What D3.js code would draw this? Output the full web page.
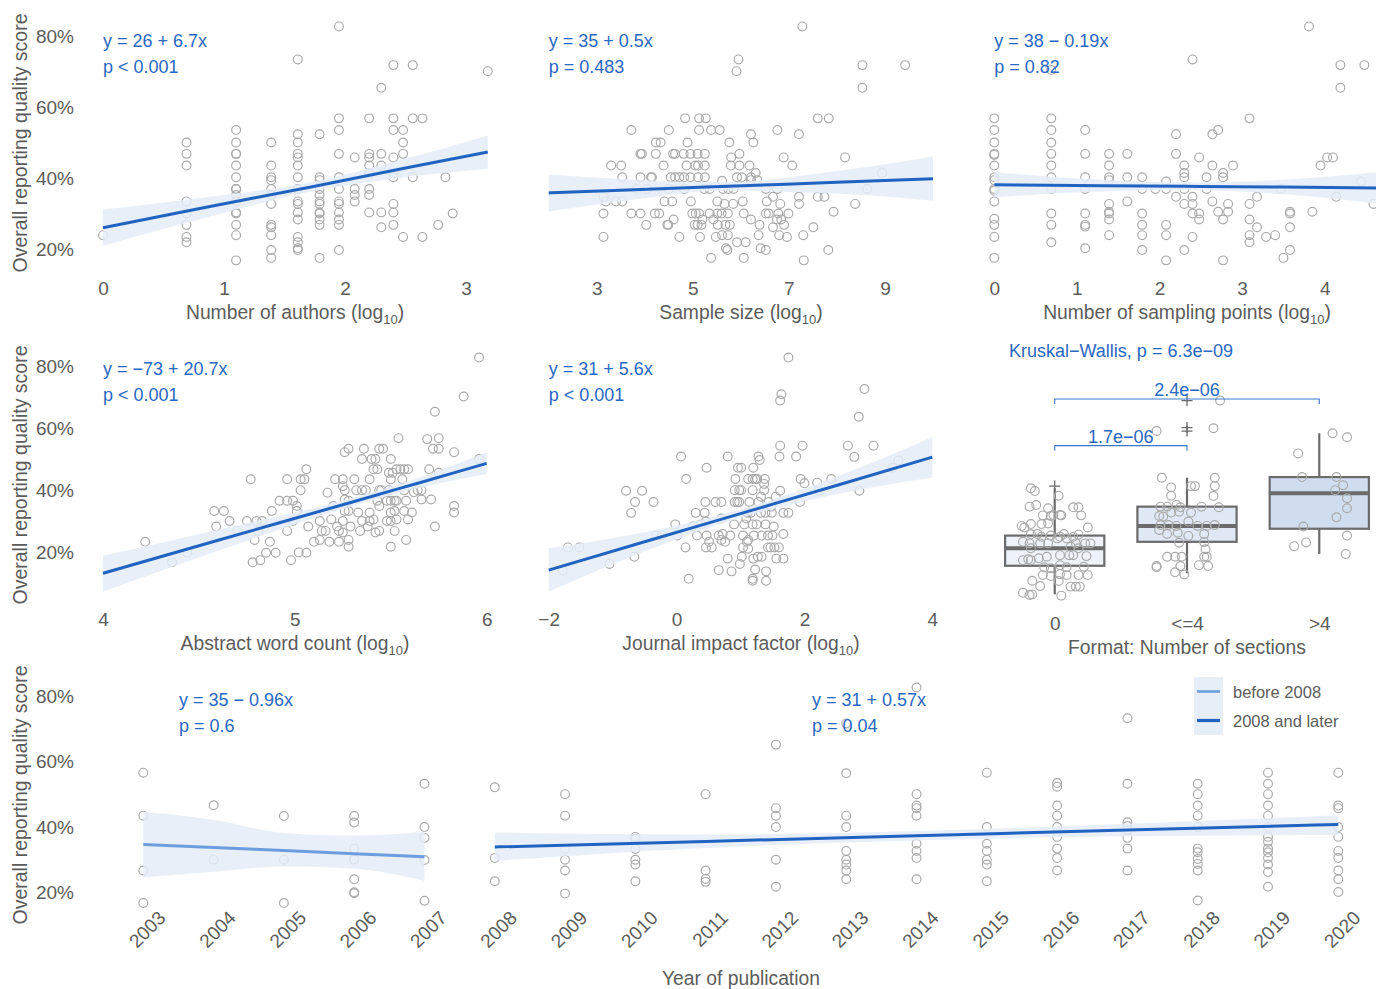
<!DOCTYPE html>
<html lang="en">
<head>
<meta charset="utf-8">
<title>Reporting quality score</title>
<script src="https://cdn.jsdelivr.net/npm/d3@7"></script>
<style>
  body { margin: 0; background: #fff; }
  text { font-family: "Liberation Sans", Arial, Helvetica, sans-serif; }
</style>
</head>
<body>
<svg id="chart" width="1376" height="989"></svg>
<script>
// ---- data ----
var pctTicks = [20, 40, 60, 80];

// number of authors (ln scale), columns of scores
var authorCols = [
  [0, [23.9]],
  [0.69, [50.0, 46.8, 43.5, 33.4, 30.0, 26.8, 23.4, 21.9]],
  [1.10, [53.5, 50.0, 46.8, 46.8, 43.5, 40.2, 36.9, 36.9, 35.2, 33.4, 30.3, 30.0, 26.8, 23.9, 16.8]],
  [1.39, [50.0, 43.5, 40.2, 39.4, 36.9, 35.2, 32.7, 26.8, 26.1, 23.9, 19.7, 17.5]],
  [1.61, [73.4, 52.3, 50.0, 46.8, 45.8, 43.5, 40.2, 36.9, 33.4, 32.7, 30.3, 28.3, 23.4, 21.9, 20.2, 19.7]],
  [1.79, [52.3, 40.2, 39.4, 36.9, 35.2, 33.4, 32.7, 30.3, 30.0, 28.3, 26.8, 17.5]],
  [1.95, [82.7, 56.8, 53.5, 46.8, 40.2, 36.9, 33.4, 32.7, 30.3, 28.3, 26.8, 19.7]],
  [2.08, [45.8, 36.9, 35.2, 33.4]],
  [2.20, [56.8, 46.8, 45.8, 43.5, 41.3, 36.9, 35.2, 30.3]],
  [2.30, [65.4, 46.8, 43.5, 30.3, 26.1]],
  [2.40, [71.8, 56.8, 53.5, 45.8, 41.3, 40.2, 32.7, 30.3, 26.8]],
  [2.48, [53.5, 50.0, 46.8, 23.4]],
  [2.56, [71.8, 56.8, 40.2]],
  [2.64, [56.8, 23.4]],
  [2.77, [26.8]],
  [2.83, [40.2]],
  [2.89, [30.0]],
  [3.18, [70.1]]
];

var samplePts = [
  [7.28,82.7],[5.95,73.4],[5.91,70.1],[8.53,71.8],[9.42,71.8],[8.53,65.4],
  [4.84,56.8],[5.13,56.8],[5.27,56.8],[7.60,56.8],[7.83,56.8],
  [3.72,53.5],[4.50,53.5],[5.13,53.5],[5.38,53.5],[5.56,53.5],[6.76,53.5],[6.21,52.3],[7.21,52.3],
  [4.23,50.0],[4.33,50.0],[4.89,50.0],[5.76,50.0],[6.26,50.0],
  [3.91,46.8],[3.94,46.8],[4.23,46.8],[4.59,46.8],[4.63,46.8],[4.81,46.8],[4.95,46.8],[5.10,46.8],[5.25,46.8],[5.97,46.8],[5.80,45.8],[6.89,45.8],[8.17,45.8],
  [3.30,43.5],[3.51,43.5],[4.39,43.5],[4.87,43.5],[5.05,43.5],[5.11,43.5],[5.25,43.5],[5.79,43.5],[5.97,43.5],[6.18,43.5],[7.07,43.5],
  [3.53,40.2],[3.91,40.2],[4.13,40.2],[4.15,40.2],[4.54,40.2],[4.63,40.2],[4.72,40.2],[4.82,40.2],[4.95,40.2],[5.11,40.2],[5.25,40.2],[5.92,40.2],[6.02,40.2],[6.21,40.2],[6.31,41.4],[8.94,41.4],[6.21,39.4],[6.34,39.4],[5.61,39.2],
  [3.84,36.9],[4.05,36.9],[4.50,36.9],[4.82,36.9],[5.24,36.9],[5.35,36.9],[5.63,36.9],[5.74,36.9],[5.85,36.9],[6.52,36.9],[6.76,36.9],[8.63,36.9],
  [3.14,34.7],[3.19,33.4],[3.40,33.4],[3.53,33.4],[4.41,33.4],[4.57,33.4],[4.96,33.4],[5.51,33.4],[5.66,32.7],[5.84,32.7],[6.04,33.4],[6.54,33.4],[6.67,34.7],[6.82,32.7],[7.21,34.7],[7.21,32.7],[7.60,34.7],[7.74,34.7],[8.38,32.7],
  [3.14,30.0],[3.72,30.0],[3.91,30.0],[4.21,30.0],[4.30,30.0],[4.99,30.0],[5.06,30.0],[5.13,30.0],[5.35,30.0],[5.51,30.0],[5.60,30.0],[5.73,30.0],[6.06,30.0],[6.52,30.0],[6.58,30.0],[6.78,30.0],[6.99,30.0],[7.93,30.5],
  [4.60,28.3],[5.20,28.3],[5.43,28.3],[6.21,28.3],[6.75,28.3],[6.84,28.3],
  [4.03,26.8],[4.47,26.8],[4.49,26.8],[5.04,26.8],[5.10,26.8],[5.18,26.8],[5.52,26.8],[5.68,26.8],[5.77,26.8],[6.39,26.8],[6.67,26.1],[6.90,26.8],[7.51,26.1],
  [3.14,23.4],[4.72,23.4],[5.15,23.4],[5.48,23.4],[5.61,23.9],[5.73,23.9],[6.37,23.9],[6.80,23.9],[6.96,23.4],[7.30,23.9],
  [5.69,20.2],[5.72,19.7],[5.92,21.9],[6.10,21.9],[6.41,20.2],[6.52,19.7],[7.82,19.7],
  [5.38,17.5],[6.06,17.5],[7.31,16.8]
];

var samplingCols = [
  [0, [56.8, 53.5, 50.0, 46.8, 46.5, 43.5, 40.2, 39.4, 36.9, 36.4, 33.4, 28.5, 26.8, 23.4, 17.5]],
  [0.69, [70.4, 56.8, 53.5, 50.0, 46.8, 43.5, 40.2, 36.9, 30.0, 26.8, 21.9]],
  [1.10, [53.5, 46.8, 40.2, 36.9, 30.0, 26.8, 26.3, 20.2]],
  [1.39, [46.8, 43.5, 40.2, 39.4, 32.7, 30.5, 30.0, 28.3, 23.9]],
  [1.61, [46.8, 40.2, 33.4]],
  [1.79, [40.2, 36.9, 30.0, 26.8, 23.9, 19.7]],
  [1.95, [36.9]],
  [2.08, [39.0, 36.9, 26.8, 23.9, 16.8]],
  [2.20, [52.3, 46.8, 34.7]],
  [2.30, [43.5, 41.4, 40.2, 36.9, 32.7, 19.7]],
  [2.40, [73.4, 34.7, 32.7, 30.0, 23.4]],
  [2.48, [45.8, 30.0, 28.3]],
  [2.57, [40.2, 36.9]],
  [2.64, [52.3, 43.5, 33.4]],
  [2.71, [53.5, 30.5]],
  [2.77, [41.4, 40.2, 28.3, 16.8]],
  [2.83, [32.7, 30.5]],
  [2.89, [43.5]],
  [3.09, [56.8, 32.7, 28.3, 23.9, 21.9]],
  [3.18, [34.7, 26.1]],
  [3.29, [23.4]],
  [3.40, [23.9]],
  [3.47, [36.9]],
  [3.50, [17.5]],
  [3.58, [30.5, 30.0, 26.1, 19.7]],
  [3.81, [82.7]],
  [3.85, [30.5]],
  [3.95, [43.5]],
  [4.03, [45.8]],
  [4.10, [45.8]],
  [4.14, [34.7]],
  [4.19, [71.8, 65.4]],
  [4.44, [39.0]],
  [4.48, [71.8]],
  [4.59, [32.7]]
];

var abstractPts = [
  [5.96,82.7],[5.88,70.2],[5.73,65.3],[5.54,56.8],[5.69,56.5],[5.75,56.8],[5.72,53.4],[5.75,53.4],
  [5.26,52.3],[5.28,53.4],[5.36,53.4],[5.44,53.4],[5.46,53.4],[5.83,52.3],
  [5.35,50.1],[5.40,50.1],[5.42,50.1],[5.50,50.1],[5.96,50.1],
  [5.06,46.8],[5.41,46.8],[5.43,46.8],[5.49,45.7],[5.53,46.8],[5.55,46.8],[5.57,46.8],[5.59,46.8],[5.70,46.8],[5.75,45.7],[5.51,45.7],
  [4.77,43.6],[4.96,43.6],[5.03,43.6],[5.05,43.6],[5.21,43.6],[5.25,43.6],[5.31,43.6],[5.39,43.6],[5.50,43.6],[5.56,43.6],
  [5.25,41.4],[5.26,40.1],[5.32,40.1],[5.35,40.1],[5.37,40.1],[5.44,40.1],[5.45,40.1],[5.49,40.1],[5.57,40.1],[5.62,39.4],[5.64,40.1],[5.66,40.1],[5.03,40.1],[5.17,39.3],
  [4.92,36.7],[4.96,36.7],[4.99,36.7],[5.26,37.1],[5.28,36.7],[5.43,36.7],[5.48,36.7],[5.50,36.7],[5.52,36.7],[5.53,36.7],[5.58,36.7],[5.66,37.1],[5.71,37.1],
  [5.01,35.0],[5.01,33.4],[5.20,35.0],[5.44,35.0],[5.83,35.0],
  [4.58,33.4],[4.63,33.4],[4.88,33.4],[5.26,33.4],[5.28,33.4],[5.33,32.9],[5.39,32.9],[5.50,32.9],[5.52,33.4],[5.57,33.4],[5.61,32.9],[5.83,32.9],
  [4.66,30.2],[4.75,30.2],[4.80,30.2],[4.83,30.2],[4.99,30.2],[5.13,30.2],[5.19,30.7],[5.25,30.2],[5.35,30.2],[5.39,30.2],[5.41,30.7],[5.48,30.2],[5.50,30.2],[5.53,30.7],[5.59,30.7],
  [4.59,28.4],[5.07,28.4],[5.22,28.4],[5.29,28.4],[5.38,28.4],[5.73,28.4],
  [4.70,27.0],[4.81,27.0],[4.96,27.0],[5.14,27.0],[5.16,27.0],[5.23,27.0],[5.25,26.5],[5.34,27.0],[5.42,26.5],[5.44,27.0],[5.52,27.0],
  [4.79,24.1],[4.87,23.5],[5.10,23.5],[5.13,24.1],[5.18,23.5],[5.23,23.5],[5.28,24.1],[5.58,24.1],[4.22,23.5],[5.50,21.9],[5.28,21.9],
  [4.44,20.1],[4.85,20.0],[4.90,20.0],[5.02,20.1],[5.06,20.0],
  [4.36,16.9],[4.78,16.9],[4.82,17.6],[4.98,17.6]
];

var impactPts = [
  [1.75,82.7],[1.64,70.9],[1.62,68.9],[2.94,72.6],[2.85,63.7],[2.68,54.4],[3.08,54.4],[1.62,54.4],[1.97,54.4],[2.78,50.8],
  [0.07,50.9],[0.80,50.9],[1.28,50.9],[1.30,49.8],[1.61,50.9],[1.87,50.9],
  [0.47,47.3],[0.96,47.3],[1.01,47.3],[1.20,47.3],[3.47,49.6],[3.38,47.3],
  [0.15,43.7],[0.92,43.7],[1.12,43.7],[1.19,43.7],[1.23,43.7],[1.26,43.7],[1.38,43.7],[1.94,43.7],[1.37,42.1],[2.00,42.3],[2.20,42.5],[2.42,43.7],[2.23,39.9],
  [-0.79,39.9],[-0.54,39.9],[0.91,40.1],[0.98,40.1],[1.01,40.1],[1.19,40.1],[1.37,40.1],[1.62,39.9],[2.86,39.9],[1.32,38.0],[1.55,38.0],
  [-0.65,36.3],[-0.36,36.3],[0.45,36.3],[0.61,36.3],[0.70,36.3],[0.91,36.3],[0.95,36.3],[0.98,36.3],[1.14,36.3],[1.28,36.3],[1.44,36.3],[1.93,36.3],[1.48,34.8],
  [-0.71,32.8],[0.30,32.8],[0.44,32.8],[1.11,32.8],[1.16,32.8],[1.32,32.8],[1.39,32.8],[1.49,32.8],[1.67,32.8],[1.75,32.8],
  [-0.02,29.1],[0.26,28.4],[0.39,29.1],[0.46,30.0],[0.70,31.0],[0.90,29.1],[1.06,29.1],[1.19,29.1],[1.39,29.1],[1.52,28.4],[1.09,31.0],[1.25,29.1],
  [-0.32,25.5],[-0.23,25.5],[0.01,25.5],[0.32,25.5],[0.47,25.5],[0.66,25.5],[0.72,26.0],[0.84,25.5],[1.04,25.5],[1.21,25.5],[1.33,25.5],[1.43,25.5],[1.50,25.5],[1.67,26.0],
  [0.70,24.1],[0.51,23.5],[0.76,23.5],[1.10,23.5],[1.12,24.1],
  [-1.70,21.7],[-1.52,21.7],[0.14,21.7],[0.46,21.7],[0.55,21.7],[1.04,21.7],[1.12,21.3],[1.43,21.7],[1.47,21.7],[1.53,21.7],[1.60,21.7],
  [-0.66,18.7],[0.80,18.1],[1.02,18.7],[1.20,18.1],[1.27,18.7],[1.33,18.7],[1.56,18.1],[1.67,18.1],
  [-1.05,16.4],[0.99,16.4],[-1.78,14.2],[0.66,14.4],[0.86,14.0],[1.23,14.6],[1.40,14.0],
  [0.19,11.6],[1.19,11.6],[1.19,11.0],[1.40,11.0]
];

// fitted line with 95% band: [x, fit, lower, upper]
var fitAuthors  = [[0,26.0,20.9,31.1],[0.8,31.4,28.4,34.4],[1.75,37.7,36.4,39.0],[2.5,42.8,40.2,45.4],[3.18,47.3,42.6,52.0]];
var fitSample   = [[2,35.8,30.6,41.0],[3.5,36.55,33.4,39.7],[5.6,37.6,36.4,38.8],[8,38.8,35.6,42.0],[10,39.8,33.6,46.0]];
var fitSampling = [[0,38.1,34.6,41.6],[1.3,37.85,36.2,39.5],[2.3,37.66,36.6,38.7],[3.5,37.44,35.4,39.5],[4.7,37.2,32.6,41.8]];
var fitAbstract = [[4,13.4,7.5,19.0],[4.6,24.0,20.6,27.4],[5.3,36.3,35.0,37.6],[5.65,42.5,40.8,44.2],[6,48.7,45.3,52.3]];
var fitImpact   = [[-2,14.4,7.5,21.4],[-0.5,23.5,20.4,26.6],[1,32.55,31.2,33.9],[2.5,41.6,38.8,44.4],[4,50.7,44.2,57.1]];
var fitBefore   = [[2003,34.7,24.6,44.7],[2004,33.75,26.3,42.2],[2005,32.8,27.9,38.2],[2006,31.85,27.2,37.4],[2007,30.9,23.5,38.6]];
var fitAfter    = [[2008,33.9,29.6,38.3],[2011,35.6,33.6,37.7],[2014,37.35,35.9,38.8],[2017,39.1,37.2,41.0],[2020,40.8,37.6,43.6]];

var equations = ["y = 26 + 6.7x", "y = 35 + 0.5x", "y = 38 \u2212 0.19x", "y = \u221273 + 20.7x", "y = 31 + 5.6x", "y = 35 \u2212 0.96x", "y = 31 + 0.57x"];
var pvalues   = ["p < 0.001", "p = 0.483", "p = 0.82", "p < 0.001", "p < 0.001", "p = 0.6", "p = 0.04"];

// format: number of sections
var sectionGroups = ["0", "<=4", ">4"];
var boxStats = [ // [low whisker, q1, median, q3, high whisker]
  [6.6, 15.8, 21.4, 25.5, 40.7],
  [13.4, 23.5, 28.6, 34.8, 44.1],
  [19.6, 27.7, 39.1, 44.3, 58.4]
];
var boxOutliers = [[41.4], [68.9, 60.2, 59.1], []];
var boxFills = ["#eef3fa", "#dfe8f4", "#cfddef"];
// jittered points: [group, offset (in group steps), score]
var sectionPts = [
  [0,-0.18,40.7],[0,-0.15,39.8],[0,0.03,38.3],[0,-0.19,34.8],[0,-0.14,35.3],[0,-0.09,32.0],[0,-0.05,34.3],[0,-0.03,31.8],[0,-0.01,32.1],[0,0.04,32.1],[0,0.05,32.0],[0,0.14,34.6],[0,0.18,34.6],[0,0.20,32.0],
  [0,-0.25,28.6],[0,-0.23,28.1],[0,-0.18,29.2],[0,-0.10,29.2],[0,-0.05,29.4],[0,0.25,28.1],[0,-0.13,26.0],[0,-0.18,25.9],[0,-0.10,25.1],[0,-0.03,25.5],[0,0.04,25.1],[0,0.07,26.0],[0,0.14,25.1],[0,0.18,25.8],
  [0,-0.24,23.5],[0,-0.19,23.0],[0,-0.11,23.0],[0,-0.05,23.0],[0,0.02,24.6],[0,0.09,24.6],[0,0.16,23.0],[0,0.23,23.0],[0,0.27,23.0],[0,-0.18,21.4],[0,0.12,21.9],[0,0.18,21.4],
  [0,-0.24,17.6],[0,-0.18,17.6],[0,-0.12,18.2],[0,-0.06,18.7],[0,0.04,19.2],[0,0.11,19.2],[0,0.14,19.2],[0,0.24,18.9],[0,-0.20,17.9],
  [0,-0.08,15.3],[0,-0.03,15.0],[0,0.04,16.0],[0,0.09,15.3],[0,0.22,15.5],[0,-0.17,11.0],[0,-0.09,12.8],[0,-0.03,12.5],[0,0.04,13.1],[0,0.09,12.8],[0,0.18,12.8],[0,0.25,12.8],
  [0,-0.11,9.3],[0,0.03,10.9],[0,0.12,9.1],[0,0.16,9.1],[0,0.19,9.1],[0,-0.24,7.1],[0,-0.19,6.4],[0,-0.17,6.6],[0,0.05,6.2],
  [1,-0.19,44.1],[1,-0.12,41.0],[1,0.03,41.4],[1,0.06,41.4],[1,0.21,44.1],[1,0.21,41.4],[1,0.20,38.2],[1,-0.12,38.3],
  [1,-0.20,34.8],[1,-0.15,34.8],[1,-0.08,35.3],[1,-0.05,34.6],[1,0.11,34.8],[1,0.24,34.6],[1,-0.21,31.8],[1,-0.18,31.6],[1,-0.12,32.9],[1,-0.06,33.2],[1,0.03,32.9],
  [1,-0.20,28.9],[1,-0.14,28.9],[1,-0.08,28.6],[1,0.01,30.0],[1,0.08,28.6],[1,0.15,28.6],[1,0.21,28.9],[1,-0.21,27.3],[1,-0.15,26.0],[1,-0.07,26.4],[1,0.01,25.4],[1,0.13,26.0],
  [1,-0.06,23.2],[1,0.13,23.4],[1,-0.15,18.7],[1,-0.09,18.7],[1,-0.04,18.7],[1,0.14,21.1],[1,0.15,18.7],[1,0.13,18.7],
  [1,-0.23,15.7],[1,-0.23,15.3],[1,-0.05,15.7],[1,0.09,16.0],[1,0.16,15.7],[1,-0.09,13.7],[1,-0.02,13.0],
  [1,-0.23,59.1],[1,0.25,68.9],[1,0.20,60.0],
  [2,0.10,58.4],[2,0.21,57.1],[2,-0.16,51.9],[2,-0.13,44.3],[2,0.13,44.3],[2,0.18,41.7],[2,0.12,40.1],[2,0.21,37.5],[2,0.21,34.3],[2,0.13,31.4],[2,-0.12,28.4],[2,0.21,25.5],[2,-0.19,22.1],[2,-0.10,23.3],[2,0.20,19.6]
];
var kruskalLabel = "Kruskal\u2212Wallis, p = 6.3e\u221209";
var pairBrackets = [ // [from group, to group, height, label]
  [0, 2, 69.4, "2.4e\u221206"],
  [0, 1, 54.4, "1.7e\u221206"]
];

// year of publication
var yearTicks = [2003,2004,2005,2006,2007,2008,2009,2010,2011,2012,2013,2014,2015,2016,2017,2018,2019,2020];
var yearCols = [
  [2003, [56.7, 43.5, 26.7, 16.7]],
  [2004, [46.7, 30.0]],
  [2005, [43.4, 30.0, 16.7]],
  [2006, [43.4, 41.4, 33.4, 30.2, 29.9, 24.0, 20.0, 19.7]],
  [2007, [53.3, 40.0, 36.7, 29.9, 17.4]],
  [2008, [52.2, 30.5, 23.4]],
  [2009, [50.1, 43.5, 33.3, 30.0, 26.7, 19.6]],
  [2010, [37.0, 36.4, 33.3, 30.0, 28.5, 23.4]],
  [2011, [50.1, 26.7, 24.1, 23.2]],
  [2012, [65.3, 45.8, 43.5, 40.0, 30.0, 21.7]],
  [2013, [71.8, 56.5, 43.5, 40.0, 32.7, 30.0, 28.5, 26.7, 24.0]],
  [2014, [82.8, 50.1, 46.6, 45.8, 43.5, 34.9, 32.7, 30.5, 24.0]],
  [2015, [56.7, 40.0, 34.9, 32.7, 30.0, 28.5, 23.4]],
  [2016, [53.5, 52.4, 46.6, 43.5, 40.0, 37.0, 33.4, 30.5, 26.7]],
  [2017, [73.4, 53.3, 41.5, 40.3, 39.0, 36.7, 33.4, 26.7]],
  [2018, [53.3, 50.1, 46.6, 43.5, 40.0, 33.4, 32.3, 30.2, 28.7, 26.7, 17.5]],
  [2019, [56.7, 53.3, 50.1, 46.6, 43.5, 40.0, 37.0, 35.5, 33.4, 32.3, 30.5, 28.5, 26.2, 21.7]],
  [2020, [56.7, 46.6, 45.8, 40.0, 37.0, 32.7, 30.5, 26.7, 24.0, 20.1]]
];
var legendLabels = ["before 2008", "2008 and later"];

// ---- drawing ----
var GREY = "#5c5c5c", BLUE = "#2a68c2", LINE = "#2163c0", LINE_LIGHT = "#6c9edd",
    RIBBON = "#e4ecf7", POINT = "#a9a9a9";

var svg = d3.select("#chart");

function flat(cols) {
  return cols.flatMap(function (c) { return c[1].map(function (v) { return [c[0], v]; }); });
}

function yAxis(y) {
  svg.append("g").attr("transform", "translate(77,0)")
    .call(d3.axisLeft(y).tickValues(pctTicks).tickFormat(function (d) { return d + "%"; }).tickSize(0).tickPadding(3))
    .call(function (g) { g.select(".domain").remove(); })
    .selectAll("text").attr("font-size", 19).attr("fill", GREY).attr("font-family", null);
}

function yTitle(cy) {
  svg.append("text").attr("transform", "translate(27," + cy + ") rotate(-90)")
    .attr("text-anchor", "middle").attr("font-size", 19.5).attr("fill", GREY)
    .text("Overall reporting quality score");
}

function xAxis(x, ticks, ty, fmt) {
  svg.append("g").attr("transform", "translate(0," + ty + ")")
    .call(d3.axisBottom(x).tickValues(ticks).tickFormat(fmt || d3.format("")).tickSize(0).tickPadding(0))
    .call(function (g) { g.select(".domain").remove(); })
    .selectAll("text").attr("font-size", 19).attr("fill", GREY).attr("font-family", null);
}

function logTitle(cx, by, label) {
  var t = svg.append("text").attr("x", cx).attr("y", by).attr("text-anchor", "middle")
    .attr("font-size", 19.3).attr("fill", GREY);
  t.append("tspan").text(label + " (log");
  t.append("tspan").attr("font-size", 13).attr("dy", 5).text("10");
  t.append("tspan").attr("dy", -5).text(")");
}

function smooth(g, fit, x, y, color, width) {
  g.append("path").datum(fit)
    .attr("d", d3.area().x(function (d) { return x(d[0]); }).y0(function (d) { return y(d[2]); })
      .y1(function (d) { return y(d[3]); }).curve(d3.curveMonotoneX))
    .attr("fill", RIBBON).attr("opacity", 0.85);
  g.append("path").datum(fit)
    .attr("d", d3.line().x(function (d) { return x(d[0]); }).y(function (d) { return y(d[1]); }).curve(d3.curveMonotoneX))
    .attr("fill", "none").attr("stroke", color).attr("stroke-width", width);
}

function points(g, pts, x, y) {
  g.selectAll(null).data(pts).join("circle")
    .attr("cx", function (d) { return x(d[0]); }).attr("cy", function (d) { return y(d[1]); })
    .attr("r", 4.4).attr("fill", "none").attr("stroke", POINT).attr("stroke-width", 1.15);
}

function annot(x0, yb, i) {
  svg.append("text").attr("x", x0).attr("y", yb).attr("font-size", 18).attr("fill", BLUE).text(equations[i]);
  svg.append("text").attr("x", x0).attr("y", yb + 26).attr("font-size", 18).attr("fill", BLUE).text(pvalues[i]);
}

function scatterPanel(cfg) {
  var g = svg.append("g");
  points(g, cfg.pts, cfg.x, cfg.y);
  smooth(g, cfg.fit, cfg.x, cfg.y, LINE, 3);
  xAxis(cfg.x, cfg.ticks, cfg.tickY);
  logTitle(cfg.titleX, cfg.titleY, cfg.title);
  annot(cfg.x.range()[0], cfg.annY, cfg.eq);
}

// row scales
var yRow1 = d3.scaleLinear().domain([20, 80]).range([249, 36]);
var yRow2 = d3.scaleLinear().domain([20, 80]).range([552.7, 366]);
var yRow3 = d3.scaleLinear().domain([20, 80]).range([892.3, 696.7]);

[yRow1, yRow2, yRow3].forEach(yAxis);
yTitle(143); yTitle(475); yTitle(795);

scatterPanel({ pts: flat(authorCols), fit: fitAuthors, x: d3.scaleLinear().domain([0, 3]).range([103, 466]),
  y: yRow1, ticks: [0, 1, 2, 3], tickY: 281.5, title: "Number of authors", titleX: 295, titleY: 319, annY: 47, eq: 0 });
scatterPanel({ pts: samplePts, fit: fitSample, x: d3.scaleLinear().domain([2, 10]).range([548.7, 933]),
  y: yRow1, ticks: [3, 5, 7, 9], tickY: 281.5, title: "Sample size", titleX: 741, titleY: 319, annY: 47, eq: 1 });
scatterPanel({ pts: flat(samplingCols), fit: fitSampling, x: d3.scaleLinear().domain([0, 4]).range([994.3, 1324.7]),
  y: yRow1, ticks: [0, 1, 2, 3, 4], tickY: 281.5, title: "Number of sampling points", titleX: 1187, titleY: 319, annY: 47, eq: 2 });
scatterPanel({ pts: abstractPts, fit: fitAbstract, x: d3.scaleLinear().domain([4, 6]).range([103, 486.7]),
  y: yRow2, ticks: [4, 5, 6], tickY: 612.5, title: "Abstract word count", titleX: 295, titleY: 650, annY: 375, eq: 3 });
scatterPanel({ pts: impactPts, fit: fitImpact, x: d3.scaleLinear().domain([-2, 4]).range([548.7, 932.3]),
  y: yRow2, ticks: [-2, 0, 2, 4], tickY: 612.5, title: "Journal impact factor", titleX: 741, titleY: 650, annY: 375, eq: 4 });

// box plot panel
(function () {
  var x = d3.scalePoint().domain(sectionGroups).range([994, 1380]).padding(0.459);
  var step = x.step(), half = step * 0.375, y = yRow2;
  var g = svg.append("g");
  sectionGroups.forEach(function (grp, i) {
    var s = boxStats[i], cx = x(grp);
    g.append("line").attr("x1", cx).attr("x2", cx).attr("y1", y(s[0])).attr("y2", y(s[4]))
      .attr("stroke", "#6b6b6b").attr("stroke-width", 2.2);
    g.append("rect").attr("x", cx - half).attr("width", half * 2).attr("y", y(s[3])).attr("height", y(s[1]) - y(s[3]))
      .attr("fill", boxFills[i]).attr("stroke", "#6b6b6b").attr("stroke-width", 2.2);
    g.append("line").attr("x1", cx - half).attr("x2", cx + half).attr("y1", y(s[2])).attr("y2", y(s[2]))
      .attr("stroke", "#6b6b6b").attr("stroke-width", 4);
    boxOutliers[i].forEach(function (v) {
      var py = y(v);
      g.append("path").attr("d", "M" + (cx - 5.5) + "," + py + "H" + (cx + 5.5) + "M" + cx + "," + (py - 5.5) + "V" + (py + 5.5))
        .attr("stroke", "#6b6b6b").attr("stroke-width", 1.3);
    });
  });
  g.selectAll(null).data(sectionPts).join("circle")
    .attr("cx", function (d) { return x(sectionGroups[d[0]]) + d[1] * step; })
    .attr("cy", function (d) { return y(d[2]); })
    .attr("r", 4.4).attr("fill", "none").attr("stroke", POINT).attr("stroke-width", 1.15);
  pairBrackets.forEach(function (b) {
    var x1 = x(sectionGroups[b[0]]), x2 = x(sectionGroups[b[1]]), by = y(b[2]), tip = y(b[2] - 1.6);
    g.append("path").attr("d", "M" + x1 + "," + tip + "V" + by + "H" + x2 + "V" + tip)
      .attr("fill", "none").attr("stroke", "#3a78d0").attr("stroke-width", 1.1);
    g.append("text").attr("x", (x1 + x2) / 2).attr("y", by - 3).attr("text-anchor", "middle")
      .attr("font-size", 18).attr("fill", BLUE).text(b[3]);
  });
  svg.append("text").attr("x", 1009).attr("y", 357).attr("font-size", 18).attr("fill", BLUE).text(kruskalLabel);
  xAxis(x, sectionGroups, 616.5, function (d) { return d; });
  svg.append("text").attr("x", 1187).attr("y", 653.5).attr("text-anchor", "middle").attr("font-size", 19.3)
    .attr("fill", GREY).text("Format: Number of sections");
})();

// year panel
(function () {
  var x = d3.scaleLinear().domain([2003, 2020]).range([143.3, 1338.3]);
  var y = yRow3, g = svg.append("g");
  points(g, flat(yearCols), x, y);
  smooth(g, fitBefore, x, y, LINE_LIGHT, 3);
  smooth(g, fitAfter, x, y, LINE, 3);
  svg.append("g")
    .call(d3.axisBottom(x).tickValues(yearTicks).tickFormat(d3.format("d")).tickSize(0))
    .call(function (gg) { gg.select(".domain").remove(); })
    .selectAll("text").attr("font-size", 19).attr("fill", GREY).attr("font-family", null)
    .attr("y", null).attr("dy", null).attr("text-anchor", "end")
    .attr("transform", "translate(23,919) rotate(-45)");
  svg.append("text").attr("x", 741).attr("y", 985).attr("text-anchor", "middle").attr("font-size", 19.3)
    .attr("fill", GREY).text("Year of publication");
  annot(179, 706, 5);
  annot(812, 706, 6);

  // legend
  var lg = svg.append("g").attr("transform", "translate(1194,677)");
  lg.append("rect").attr("width", 29).attr("height", 58).attr("fill", "#e8eef8");
  legendLabels.forEach(function (lab, i) {
    var ly = 14.5 + i * 29;
    lg.append("line").attr("x1", 3).attr("x2", 26).attr("y1", ly).attr("y2", ly)
      .attr("stroke", i === 0 ? LINE_LIGHT : LINE).attr("stroke-width", i === 0 ? 2.6 : 3.2);
    lg.append("text").attr("x", 39).attr("y", ly + 6).attr("font-size", 16.5).attr("fill", GREY).text(lab);
  });
})();
</script>
</body>
</html>
